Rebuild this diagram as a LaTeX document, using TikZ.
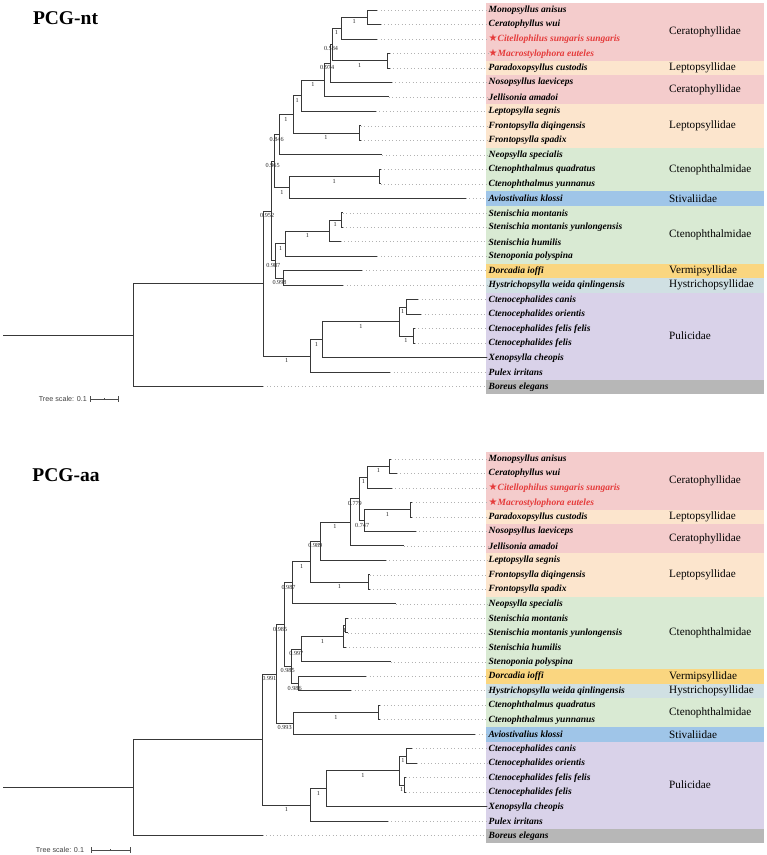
\documentclass[tikz,border=0pt]{standalone}
\usepackage{fontspec}
\setmainfont{Liberation Serif}
\setsansfont{Liberation Sans}
\newfontfamily\symfont{DejaVu Sans}
\usetikzlibrary{calc}
\definecolor{cerat}{HTML}{F4CCCC}
\definecolor{lepto}{HTML}{FCE5CD}
\definecolor{cteno}{HTML}{D9EAD3}
\definecolor{stiv}{HTML}{9FC5E8}
\definecolor{verm}{HTML}{FAD680}
\definecolor{hystr}{HTML}{D0E0E3}
\definecolor{pulic}{HTML}{D9D2E9}
\definecolor{borgray}{HTML}{B7B7B7}
\definecolor{starred}{HTML}{E53B3B}
\newcommand\redtx[1]{\textcolor{starred}{{\symfont\upshape\mdseries\fontsize{10}{10}\selectfont ★}#1}}
\newcommand\tleaf[4]{%
  \coordinate (#1) at (#2,{\yz+14.49*#3});
  \node[taxon] (#1l) at (488,{\yz+14.49*#3}) {#4};
  \draw[dotline] (#1) -- (#1l.west);
}
\newcommand\tclade[6]{%
  \path ($(#3)!0.5!(#4)$) coordinate (#1m) (#2,0) coordinate (#1x);
  \coordinate (#1) at (#1x |- #1m);
  \draw[branch] (#1) |- node[blab]{#5} (#3);
  \draw[branch] (#1) |- node[blab]{#6} (#4);
}
\newcommand\fblock[5]{%
  \fill[#4] (486,{\yz+14.49*#2-7.245}) rectangle (764,{\yz+14.49*#3+7.245});
  \node[fam] (#1) at (669,{\yz+14.49*(#2+#3)/2}) {#5};
}
\begin{document}
\begin{tikzpicture}[x=1pt,y=-1pt,
  branch/.style={line width=0.9pt,draw=black!78},
  dotline/.style={line width=0.7pt,draw=black!30,dash pattern=on 0.9pt off 2.6pt},
  taxon/.style={anchor=west,inner sep=0.5pt,font=\fontsize{9.5}{10}\selectfont\bfseries\itshape},
  fam/.style={anchor=west,inner sep=0pt,font=\fontsize{11.2}{12}\selectfont},
  blab/.style={pos=0.75,yshift=-4.5pt,inner sep=0pt,font=\fontsize{6.2}{6.2}\selectfont,text=black!85},
  ttl/.style={inner sep=0pt,font=\fontsize{19.5}{20}\selectfont\bfseries},
  scl/.style={inner sep=0pt,font=\sffamily\fontsize{7.2}{8}\selectfont,text=black!75},
  sbar/.style={line width=0.6pt,draw=black!70}]
\useasboundingbox (0,0) rectangle (767,855);

% ================= PCG-nt =================
\def\yz{10}
\fblock{fa1}{0}{3}{cerat}{Ceratophyllidae}
\fblock{fa2}{4}{4}{lepto}{Leptopsyllidae}
\fblock{fa3}{5}{6}{cerat}{Ceratophyllidae}
\fblock{fa4}{7}{9}{lepto}{Leptopsyllidae}
\fblock{fa5}{10}{12}{cteno}{Ctenophthalmidae}
\fblock{fa6}{13}{13}{stiv}{Stivaliidae}
\fblock{fa7}{14}{17}{cteno}{Ctenophthalmidae}
\fblock{fa8}{18}{18}{verm}{Vermipsyllidae}
\fblock{fa9}{19}{19}{hystr}{Hystrichopsyllidae}
\fblock{fa10}{20}{25}{pulic}{Pulicidae}
\fill[borgray] (486,{\yz+14.49*26-7.245}) rectangle (764,{\yz+14.49*26+7.245});

\tleaf{at0}{377.3}{0}{Monopsyllus anisus}
\tleaf{at1}{380.7}{1}{Ceratophyllus wui}
\tleaf{at2}{377.3}{2}{\redtx{Citellophilus sungaris sungaris}}
\tleaf{at3}{389.5}{3}{\redtx{Macrostylophora euteles}}
\tleaf{at4}{389.5}{4}{Paradoxopsyllus custodis}
\tleaf{at5}{391.7}{5}{Nosopsyllus laeviceps}
\tleaf{at6}{388.7}{6}{Jellisonia amadoi}
\tleaf{at7}{375.7}{7}{Leptopsylla segnis}
\tleaf{at8}{360.5}{8}{Frontopsylla diqingensis}
\tleaf{at9}{360.5}{9}{Frontopsylla spadix}
\tleaf{at10}{382.3}{10}{Neopsylla specialis}
\tleaf{at11}{380.5}{11}{Ctenophthalmus quadratus}
\tleaf{at12}{380.5}{12}{Ctenophthalmus yunnanus}
\tleaf{at13}{465.7}{13}{Aviostivalius klossi}
\tleaf{at14}{342.5}{14}{Stenischia montanis}
\tleaf{at15}{342.5}{15}{Stenischia montanis yunlongensis}
\tleaf{at16}{340.7}{16}{Stenischia humilis}
\tleaf{at17}{377.3}{17}{Stenoponia polyspina}
\tleaf{at18}{362}{18}{Dorcadia ioffi}
\tleaf{at19}{343.3}{19}{Hystrichopsylla weida qinlingensis}
\tleaf{at20}{418.3}{20}{Ctenocephalides canis}
\tleaf{at21}{421}{21}{Ctenocephalides orientis}
\tleaf{at22}{414.5}{22}{Ctenocephalides felis felis}
\tleaf{at23}{414.5}{23}{Ctenocephalides felis}
\tleaf{at24}{487}{24}{Xenopsylla cheopis}
\tleaf{at25}{390}{25}{Pulex irritans}
\tleaf{at26}{263.3}{26}{Boreus elegans}

\tclade{aA}{367.3}{at0}{at1}{}{}
\tclade{aB}{341}{aA}{at2}{1}{}
\tclade{aD}{387.3}{at3}{at4}{}{}
\tclade{aC}{332}{aB}{aD}{1}{1}
\tclade{aE}{330}{aC}{at5}{0.584}{}
\tclade{aF}{324.3}{aE}{at6}{0.974}{}
\tclade{aG}{301.3}{aF}{at7}{1}{}
\tclade{aI}{359}{at8}{at9}{}{}
\tclade{aH}{293}{aG}{aI}{1}{1}
\tclade{aJ}{279}{aH}{at10}{1}{}
\tclade{aM}{379}{at11}{at12}{}{}
\tclade{aL}{289.3}{aM}{at13}{1}{}
\tclade{aK}{274.3}{aJ}{aL}{0.846}{1}
\tclade{aT}{341}{at14}{at15}{}{}
\tclade{aS}{329.3}{aT}{at16}{1}{}
\tclade{aR}{285.7}{aS}{at17}{1}{}
\tclade{aU}{283.3}{at18}{at19}{}{}
\tclade{aP}{275.7}{aR}{aU}{1}{0.998}
\tclade{aN}{271}{aK}{aP}{0.965}{0.987}
\tclade{aY}{406.3}{at20}{at21}{}{}
\tclade{aZ}{413}{at22}{at23}{}{}
\tclade{aX}{399}{aY}{aZ}{1}{1}
\tclade{aW}{322.7}{aX}{at24}{1}{}
\tclade{aV}{310}{aW}{at25}{1}{}
\tclade{aQ}{263.3}{aN}{aV}{0.952}{1}
\tclade{aRoot}{133.3}{aQ}{at26}{}{}
\path (3.3,0) coordinate (aSx);
\coordinate (aStem) at (aSx |- aRoot);
\draw[branch] (aStem) -- (aRoot);

\node[ttl] (titleA) at (65.5,18.3) {PCG-nt};
\node[scl] (sclA) at (62.8,399) {Tree scale: 0.1};
\coordinate (sa1) at (90,399);
\coordinate (sa2) at (118.3,399);
\coordinate (sam) at ($(sa1)!0.5!(sa2)$);
\draw[sbar,|-|] (sa1) -- (sa2);
\draw[sbar] (sam) -- ++(0,-1.2);

% ================= PCG-aa =================
\def\yz{459}
\fblock{fb1}{0}{3}{cerat}{Ceratophyllidae}
\fblock{fb2}{4}{4}{lepto}{Leptopsyllidae}
\fblock{fb3}{5}{6}{cerat}{Ceratophyllidae}
\fblock{fb4}{7}{9}{lepto}{Leptopsyllidae}
\fblock{fb5}{10}{14}{cteno}{Ctenophthalmidae}
\fblock{fb6}{15}{15}{verm}{Vermipsyllidae}
\fblock{fb7}{16}{16}{hystr}{Hystrichopsyllidae}
\fblock{fb8}{17}{18}{cteno}{Ctenophthalmidae}
\fblock{fb9}{19}{19}{stiv}{Stivaliidae}
\fblock{fb10}{20}{25}{pulic}{Pulicidae}
\fill[borgray] (486,{\yz+14.49*26-7.245}) rectangle (764,{\yz+14.49*26+7.245});

\tleaf{bt0}{391.3}{0}{Monopsyllus anisus}
\tleaf{bt1}{396.7}{1}{Ceratophyllus wui}
\tleaf{bt2}{391.7}{2}{\redtx{Citellophilus sungaris sungaris}}
\tleaf{bt3}{412}{3}{\redtx{Macrostylophora euteles}}
\tleaf{bt4}{412}{4}{Paradoxopsyllus custodis}
\tleaf{bt5}{415.7}{5}{Nosopsyllus laeviceps}
\tleaf{bt6}{403.7}{6}{Jellisonia amadoi}
\tleaf{bt7}{385.7}{7}{Leptopsylla segnis}
\tleaf{bt8}{369.5}{8}{Frontopsylla diqingensis}
\tleaf{bt9}{369.5}{9}{Frontopsylla spadix}
\tleaf{bt10}{396}{10}{Neopsylla specialis}
\tleaf{bt11}{347.5}{11}{Stenischia montanis}
\tleaf{bt12}{347.5}{12}{Stenischia montanis yunlongensis}
\tleaf{bt13}{345.5}{13}{Stenischia humilis}
\tleaf{bt14}{390.7}{14}{Stenoponia polyspina}
\tleaf{bt15}{366}{15}{Dorcadia ioffi}
\tleaf{bt16}{351}{16}{Hystrichopsylla weida qinlingensis}
\tleaf{bt17}{380}{17}{Ctenophthalmus quadratus}
\tleaf{bt18}{380}{18}{Ctenophthalmus yunnanus}
\tleaf{bt19}{475}{19}{Aviostivalius klossi}
\tleaf{bt20}{412.3}{20}{Ctenocephalides canis}
\tleaf{bt21}{417.3}{21}{Ctenocephalides orientis}
\tleaf{bt22}{405.5}{22}{Ctenocephalides felis felis}
\tleaf{bt23}{405.5}{23}{Ctenocephalides felis}
\tleaf{bt24}{487}{24}{Xenopsylla cheopis}
\tleaf{bt25}{387.7}{25}{Pulex irritans}
\tleaf{bt26}{262.7}{26}{Boreus elegans}

\tclade{bA}{389.3}{bt0}{bt1}{}{}
\tclade{bB}{367.3}{bA}{bt2}{1}{}
\tclade{bE}{410}{bt3}{bt4}{}{}
\tclade{bD}{364.7}{bE}{bt5}{1}{}
\tclade{bC}{359.7}{bB}{bD}{1}{0.747}
\tclade{bF}{350}{bC}{bt6}{0.779}{}
\tclade{bG}{320}{bF}{bt7}{1}{}
\tclade{bI}{368}{bt8}{bt9}{}{}
\tclade{bH}{310.7}{bG}{bI}{0.989}{1}
\tclade{bJ}{292.7}{bH}{bt10}{1}{}
\tclade{bNa}{345.7}{bt11}{bt12}{}{}
\tclade{bNb}{343.3}{bNa}{bt13}{1}{}
\tclade{bM}{301.7}{bNb}{bt14}{1}{}
\tclade{bO}{298.3}{bt15}{bt16}{}{}
\tclade{bL}{291}{bM}{bO}{0.997}{0.986}
\tclade{bK}{284.3}{bJ}{bL}{0.987}{0.985}
\tclade{bS}{378.3}{bt17}{bt18}{}{}
\tclade{bR}{293.3}{bS}{bt19}{1}{}
\tclade{bP}{276}{bK}{bR}{0.985}{0.993}
\tclade{bY}{406.7}{bt20}{bt21}{}{}
\tclade{bZ}{404}{bt22}{bt23}{}{}
\tclade{bX}{399.3}{bY}{bZ}{1}{1}
\tclade{bW}{326.7}{bX}{bt24}{1}{}
\tclade{bV}{310.3}{bW}{bt25}{1}{}
\tclade{bQ}{262.7}{bP}{bV}{0.991}{1}
\tclade{bRoot}{133.3}{bQ}{bt26}{}{}
\path (3.3,0) coordinate (bSx);
\coordinate (bStem) at (bSx |- bRoot);
\draw[branch] (bStem) -- (bRoot);

\node[ttl] (titleB) at (66,475) {PCG-aa};
\node[scl] (sclB) at (60,850) {Tree scale: 0.1};
\coordinate (sb1) at (90.7,850);
\coordinate (sb2) at (130.7,850);
\coordinate (sbm) at ($(sb1)!0.5!(sb2)$);
\draw[sbar,|-|] (sb1) -- (sb2);
\draw[sbar] (sbm) -- ++(0,-1.2);
\end{tikzpicture}
\end{document}
